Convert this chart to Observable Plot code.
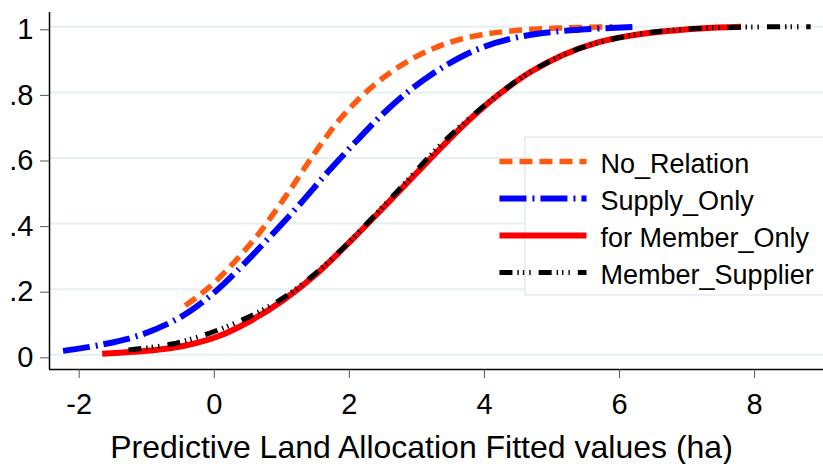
<!DOCTYPE html>
<html>
<head>
<meta charset="utf-8">
<script src="https://cdn.jsdelivr.net/npm/d3@7"></script>
<script src="https://cdn.jsdelivr.net/npm/@observablehq/plot@0.6"></script>
<style>
  html, body { margin: 0; padding: 0; background: #fff; overflow: hidden; }
  #chart svg { display: block; overflow: hidden; }
</style>
</head>
<body>
<div id="chart"></div>
<script>
// Cumulative predicted probability of land allocation, by farmer group
const seriesNames = ["No_Relation", "Supply_Only", "for Member_Only", "Member_Supplier"];
const seriesColors = ["#ff5a0f", "#0000ff", "#ff0000", "#000000"];
const seriesDash = ["13,7", "27,6,2,6", null, "13,5,1.4,4,1.4,5,1.4,8"];
const seriesWidth = [5.5, 6, 6, 5];

const noRelationX = [-0.43, -0.2, 0, 0.24, 0.5, 0.68, 1.08, 1.52, 1.91, 2.41, 2.95, 3.45, 3.94, 4.43, 5.08, 5.9];
const noRelationY = [0.15, 0.185, 0.22, 0.27, 0.33, 0.375, 0.49, 0.625, 0.73, 0.83, 0.905, 0.95, 0.975, 0.988, 0.996, 1.0];

const supplyOnlyX = [-2.24, -1.69, -1.1, -0.5, 0, 0.43, 0.87, 1.27, 1.67, 2.12, 2.55, 2.95, 3.45, 3.94, 4.58, 5.32, 6.28];
const supplyOnlyY = [0.012, 0.03, 0.06, 0.115, 0.19, 0.275, 0.37, 0.46, 0.555, 0.655, 0.745, 0.815, 0.885, 0.935, 0.972, 0.99, 1.0];

const memberOnlyX = [-1.66, -1.2, -0.95, -0.46, 0.04, 0.53, 1.03, 1.52, 2.01, 2.51, 3.2, 3.69, 4.19, 4.68, 5.17, 5.67, 6.16, 6.7, 7.2, 7.8];
const memberOnlyY = [0.003, 0.009, 0.013, 0.027, 0.055, 0.103, 0.168, 0.248, 0.345, 0.45, 0.598, 0.7, 0.79, 0.862, 0.915, 0.952, 0.973, 0.987, 0.995, 1.0];

const memberSupplierX = [-1.27, -0.65, -0.1, 0.43, 0.98, 1.42, 1.87, 2.26, 2.65, 3.45, 4.34, 4.83, 5.42, 6.2, 7.0, 7.8, 8.83];
const memberSupplierY = [0.015, 0.032, 0.064, 0.108, 0.168, 0.235, 0.318, 0.4, 0.485, 0.66, 0.815, 0.88, 0.935, 0.975, 0.993, 0.999, 1.0];

const xTicks = [-2, 0, 2, 4, 6, 8];
const xTickLabels = ["-2", "0", "2", "4", "6", "8"];
const yTicks = [0, 0.2, 0.4, 0.6, 0.8, 1];
const yTickLabels = ["0", ".2", ".4", ".6", ".8", "1"];
const xTitle = "Predictive Land Allocation Fitted values (ha)";

// Build a long table for the line marks
const xs = [noRelationX, supplyOnlyX, memberOnlyX, memberSupplierX];
const ys = [noRelationY, supplyOnlyY, memberOnlyY, memberSupplierY];
const rows = seriesNames.map((name, i) => xs[i].map((x, j) => ({series: name, x, y: ys[i][j]})));

const xDomain = [-2.44, 9.02];
const yDomain = [-0.0448, 1.0436];

// Legend placement, in data units
const legendBox = {x1: 4.607, x2: 9.6, y1: 0.181, y2: 0.6625};
const legendSample = {x1: 4.222, x2: 5.511, text: 5.719};
const legendRowY = [0.5893, 0.4765, 0.3637, 0.2509];
const legendRows = seriesNames.map((name, i) => ({name, i, y: legendRowY[i]}));

const curveMarks = rows.map((data, i) => Plot.line(data, {
  x: "x", y: "y",
  stroke: seriesColors[i],
  strokeWidth: seriesWidth[i],
  strokeDasharray: seriesDash[i],
  strokeLinecap: "butt",
  strokeLinejoin: "round",
  curve: "catmull-rom"
}));

const sampleMarks = legendRows.map(r => Plot.link([r], {
  x1: () => legendSample.x1, x2: () => legendSample.x2,
  y1: "y", y2: "y",
  stroke: seriesColors[r.i],
  strokeWidth: seriesWidth[r.i],
  strokeDasharray: seriesDash[r.i],
  strokeLinecap: "butt"
}));

const chart = Plot.plot({
  width: 823,
  height: 464,
  marginLeft: 49,
  marginRight: 0,
  marginTop: 12,
  marginBottom: 95,
  style: {fontFamily: "'Liberation Sans', Arial, sans-serif", background: "#fff", color: "#000"},
  x: {domain: xDomain},
  y: {domain: yDomain},
  marks: [
    Plot.gridY(yTicks, {stroke: "#e6eff1", strokeOpacity: 1, strokeWidth: 2}),
    ...curveMarks,
    Plot.rect([legendBox], {x1: "x1", x2: "x2", y1: "y1", y2: "y2", fill: "#fff", stroke: "#e3ebee", strokeWidth: 1.5}),
    ...sampleMarks,
    Plot.text(legendRows, {x: () => legendSample.text, y: "y", text: "name", textAnchor: "start", fontSize: 27, dy: 2.5, fill: "#000"}),
    Plot.ruleX([xDomain[0]], {stroke: "#000", strokeWidth: 1.5}),
    Plot.ruleY([yDomain[0]], {stroke: "#000", strokeWidth: 1.5}),
    Plot.axisY(yTicks, {tickSize: 9, tickPadding: 7, fontSize: 29, stroke: "#555", fill: "#000", dy: 3,
      tickFormat: (d) => yTickLabels[yTicks.indexOf(d)], label: null}),
    Plot.axisX(xTicks, {tickSize: 9, tickPadding: 15, fontSize: 29, stroke: "#555", fill: "#000",
      tickFormat: (d) => xTickLabels[xTicks.indexOf(d)], label: null}),
    Plot.text([xTitle], {frameAnchor: "bottom", lineAnchor: "top", dy: 66, dx: -15, fontSize: 32, fill: "#000"})
  ]
});

document.getElementById("chart").appendChild(chart);
</script>
</body>
</html>
